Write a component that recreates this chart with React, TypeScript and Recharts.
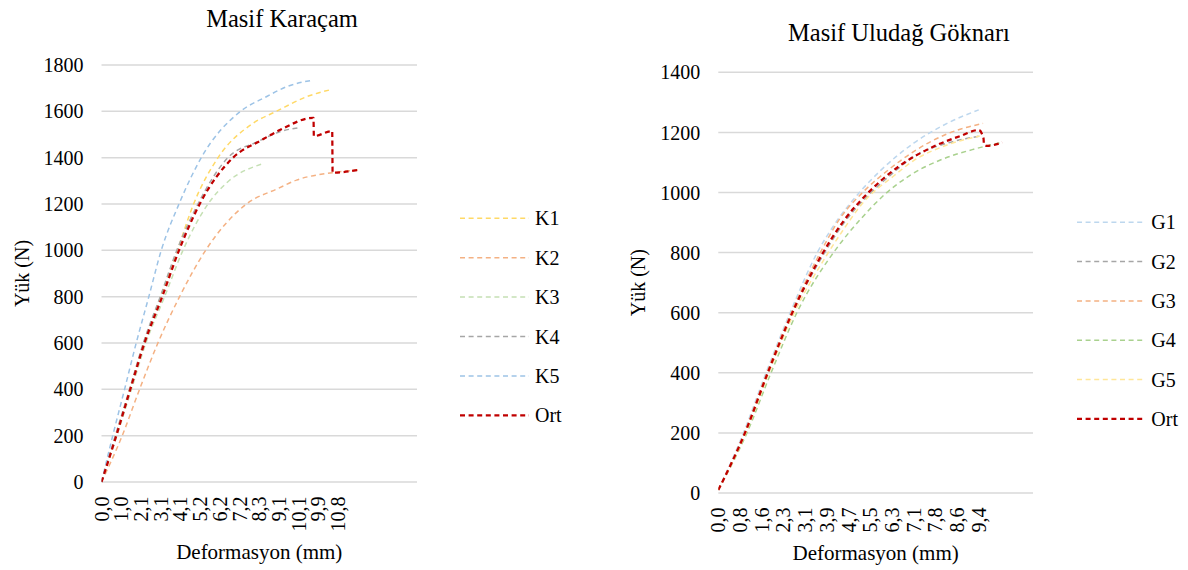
import { LineChart, Line, XAxis, YAxis, CartesianGrid, Legend } from 'recharts';

// x tick labels (category labels of the first specimen)
const kLabels = ['0,0', '1,0', '2,1', '3,1', '4,1', '5,2', '6,2', '7,2', '8,3', '9,1', '10,1', '9,9', '10,8'];
const gLabels = ['0,0', '0,8', '1,6', '2,3', '3,1', '3,9', '4,7', '5,5', '6,3', '7,1', '7,8', '8,6', '9,4'];

const kTicksY = [0, 200, 400, 600, 800, 1000, 1200, 1400, 1600, 1800];
const gTicksY = [0, 200, 400, 600, 800, 1000, 1200, 1400];
const labelTicks = [0, 1, 2, 3, 4, 5, 6, 7, 8, 9, 10, 11, 12];

// [position on category axis (in label steps), load N]
const k1 = [[0, 0], [0.72, 200], [1.44, 400], [2.14, 600], [3.0, 800], [3.85, 1000], [4.67, 1200], [5.91, 1400], [7.68, 1548], [8.87, 1600], [10.4, 1663], [11.7, 1695]];
const k2 = [[0, 0], [1.05, 200], [1.93, 400], [2.86, 600], [3.96, 800], [5.28, 1000], [7.35, 1200], [8.95, 1267], [9.89, 1303], [11.7, 1335], [13.0, 1347]];
const k3 = [[0, 0], [0.78, 200], [1.52, 400], [2.25, 600], [3.2, 800], [4.13, 1000], [5.4, 1200], [6.41, 1296], [8.11, 1372]];
const k4 = [[0, 0], [0.7, 200], [1.42, 400], [2.12, 600], [2.98, 800], [3.82, 1000], [4.89, 1200], [6.41, 1400], [7.95, 1470], [9.04, 1512], [9.97, 1529]];
const k5 = [[0, 0], [0.57, 200], [1.17, 400], [1.76, 600], [2.4, 800], [3.03, 1000], [3.93, 1200], [5.06, 1400], [7.05, 1600], [8.36, 1663], [9.38, 1706], [10.75, 1735]];
const kOrt = [[0, 0], [0.75, 200], [1.46, 400], [2.18, 600], [3.08, 800], [3.93, 1000], [4.98, 1200], [6.67, 1400], [8.1, 1475], [9.04, 1519], [10.75, 1572], [10.77, 1493], [11.7, 1515], [11.72, 1335], [13.0, 1347]];

const g1 = [[0, 10], [1.16, 200], [2.2, 400], [3.31, 600], [4.56, 800], [5.46, 905], [6.54, 1003], [7.46, 1072], [9.0, 1164], [10.54, 1230], [12.0, 1275]];
const g2 = [[0, 10], [1.23, 200], [2.28, 400], [3.42, 600], [4.9, 800], [5.8, 900], [6.9, 990], [8.0, 1062], [9.0, 1119], [10.54, 1164], [12.08, 1188]];
const g3 = [[0, 10], [1.2, 200], [2.24, 400], [3.36, 600], [4.7, 800], [5.62, 915], [6.69, 1003], [7.85, 1076], [9.0, 1136], [10.54, 1195], [12.2, 1230]];
const g4 = [[0, 10], [1.32, 200], [2.43, 400], [3.62, 600], [5.46, 815], [6.54, 910], [7.69, 995], [8.85, 1058], [10.23, 1108], [11.77, 1144], [13.08, 1167]];
const g5 = [[0, 10], [1.27, 200], [2.33, 400], [3.5, 600], [5.0, 792], [5.77, 877], [6.69, 968], [8.08, 1055], [9.0, 1106], [10.54, 1158], [12.05, 1188]];
const gOrt = [[0, 10], [1.23, 200], [2.28, 400], [3.41, 600], [4.85, 803], [5.77, 905], [6.85, 995], [8.38, 1090], [9.92, 1153], [11.15, 1188], [12.0, 1208], [12.22, 1180], [12.24, 1160], [12.39, 1155], [13.08, 1167]];

const FONT = '"Liberation Serif", "Times New Roman", serif';
const DASH = '5 3.6';

const pts = (arr: number[][]) => arr.map(([x, y]) => ({ x, y }));

const kSeries = [
  { name: 'K1', data: k1, color: '#FFD966', width: 1.5 },
  { name: 'K2', data: k2, color: '#F4B183', width: 1.5 },
  { name: 'K3', data: k3, color: '#C5E0B4', width: 1.5 },
  { name: 'K4', data: k4, color: '#A6A6A6', width: 1.5 },
  { name: 'K5', data: k5, color: '#9DC3E6', width: 1.5 },
  { name: 'Ort', data: kOrt, color: '#C00000', width: 2.25 },
];

const gSeries = [
  { name: 'G1', data: g1, color: '#BDD7EE', width: 1.5 },
  { name: 'G2', data: g2, color: '#A6A6A6', width: 1.5 },
  { name: 'G3', data: g3, color: '#F4B183', width: 1.5 },
  { name: 'G4', data: g4, color: '#A9D18E', width: 1.5 },
  { name: 'G5', data: g5, color: '#FFE699', width: 1.5 },
  { name: 'Ort', data: gOrt, color: '#C00000', width: 2.25 },
];

const textStyle = { fontFamily: FONT };

function XTick({ x, y, payload, labels }: any) {
  const text = labels[payload.value] ?? '';
  return (
    <g transform={`translate(${x},${y + 14.5})`}>
      <text transform="rotate(-90)" textAnchor="end" dy="0.35em" fontSize={20} fill="#000" style={textStyle}>
        {text}
      </text>
    </g>
  );
}

const legendContent = (gap: number, lineLen: number) => (props: any) => {
  const items = props.payload || [];
  return (
    <svg width={130} height={40 + gap * items.length}>
      {items.map((it: any, i: number) => {
        const cy = 18.3 + i * gap;
        return (
          <g key={it.value}>
            <line x1={5} x2={5 + lineLen} y1={cy} y2={cy} stroke={it.color} strokeWidth={it.payload?.strokeWidth ?? 1.5} strokeDasharray={DASH} />
            <text x={11 + lineLen} y={cy} dy="0.35em" fontSize={20} fill="#000" style={textStyle}>
              {it.value}
            </text>
          </g>
        );
      })}
    </svg>
  );
};

interface PanelProps {
  left: number;
  width: number;
  margin: { top: number; right: number; bottom: number; left: number };
  xMax: number;
  xHeight: number;
  yMax: number;
  yTicks: number[];
  labels: string[];
  series: typeof kSeries;
  legendPos: { left: number; top: number };
  legendGap: number;
  legendLine: number;
}

function Panel(p: PanelProps) {
  return (
    <div style={{ position: 'absolute', left: p.left, top: 0 }}>
      <LineChart width={p.width} height={570} margin={p.margin}>
        <CartesianGrid vertical={false} stroke="#D9D9D9" strokeWidth={1.5} />
        <XAxis
          type="number"
          dataKey="x"
          domain={[0, p.xMax]}
          ticks={labelTicks}
          interval={0}
          allowDataOverflow
          height={p.xHeight}
          axisLine={false}
          tickLine={false}
          tickSize={0}
          tickMargin={0}
          tick={(t: any) => <XTick {...t} labels={p.labels} />}
          label={{ value: 'Deformasyon (mm)', position: 'bottom', offset: 2, fontSize: 21, fill: '#000', style: textStyle }}
        />
        <YAxis
          type="number"
          domain={[0, p.yMax]}
          ticks={p.yTicks}
          width={80}
          axisLine={false}
          tickLine={false}
          tickSize={0}
          tickMargin={18}
          tick={{ fontSize: 20, fill: '#000', style: textStyle }}
          label={{ value: 'Yük (N)', angle: -90, position: 'insideLeft', offset: 0, style: { textAnchor: 'middle', fontFamily: FONT }, fontSize: 20, fill: '#000' }}
        />
        {p.series.map((s) => (
          <Line
            key={s.name}
            data={pts(s.data)}
            dataKey="y"
            name={s.name}
            type="monotone"
            stroke={s.color}
            strokeWidth={s.width}
            strokeDasharray={DASH}
            dot={false}
            activeDot={false}
            isAnimationActive={false}
          />
        ))}
        <Legend
          layout="vertical"
          align="center"
          verticalAlign="middle"
          content={legendContent(p.legendGap, p.legendLine)}
          wrapperStyle={{ left: p.legendPos.left, top: p.legendPos.top, width: 130 }}
        />
      </LineChart>
    </div>
  );
}

export default function App() {
  const titleStyle = {
    position: 'absolute' as const,
    fontFamily: FONT,
    fontSize: 24.5,
    lineHeight: '28px',
    textAlign: 'center' as const,
    color: '#000',
  };
  return (
    <div style={{ position: 'absolute', left: 0, top: 0, width: 1188, height: 570, background: '#fff', overflow: 'hidden', fontFamily: FONT }}>
      <Panel
        left={0}
        width={600}
        margin={{ top: 65, right: 183, bottom: 28, left: 21.5 }}
        xMax={16}
        xHeight={60}
        yMax={1800}
        yTicks={kTicksY}
        labels={kLabels}
        series={kSeries}
        legendPos={{ left: 455, top: 200 }}
        legendGap={39.4}
        legendLine={69}
      />
      <Panel
        left={600}
        width={588}
        margin={{ top: 72.3, right: 155, bottom: 27, left: 38.3 }}
        xMax={14.5}
        xHeight={50}
        yMax={1400}
        yTicks={gTicksY}
        labels={gLabels}
        series={gSeries}
        legendPos={{ left: 471.7, top: 204.4 }}
        legendGap={39.3}
        legendLine={68.3}
      />
      <div style={{ ...titleStyle, left: 82, width: 400, top: 5 }}>Masif Karaçam</div>
      <div style={{ ...titleStyle, left: 699, width: 400, top: 19 }}>Masif Uludağ Göknarı</div>
    </div>
  );
}
